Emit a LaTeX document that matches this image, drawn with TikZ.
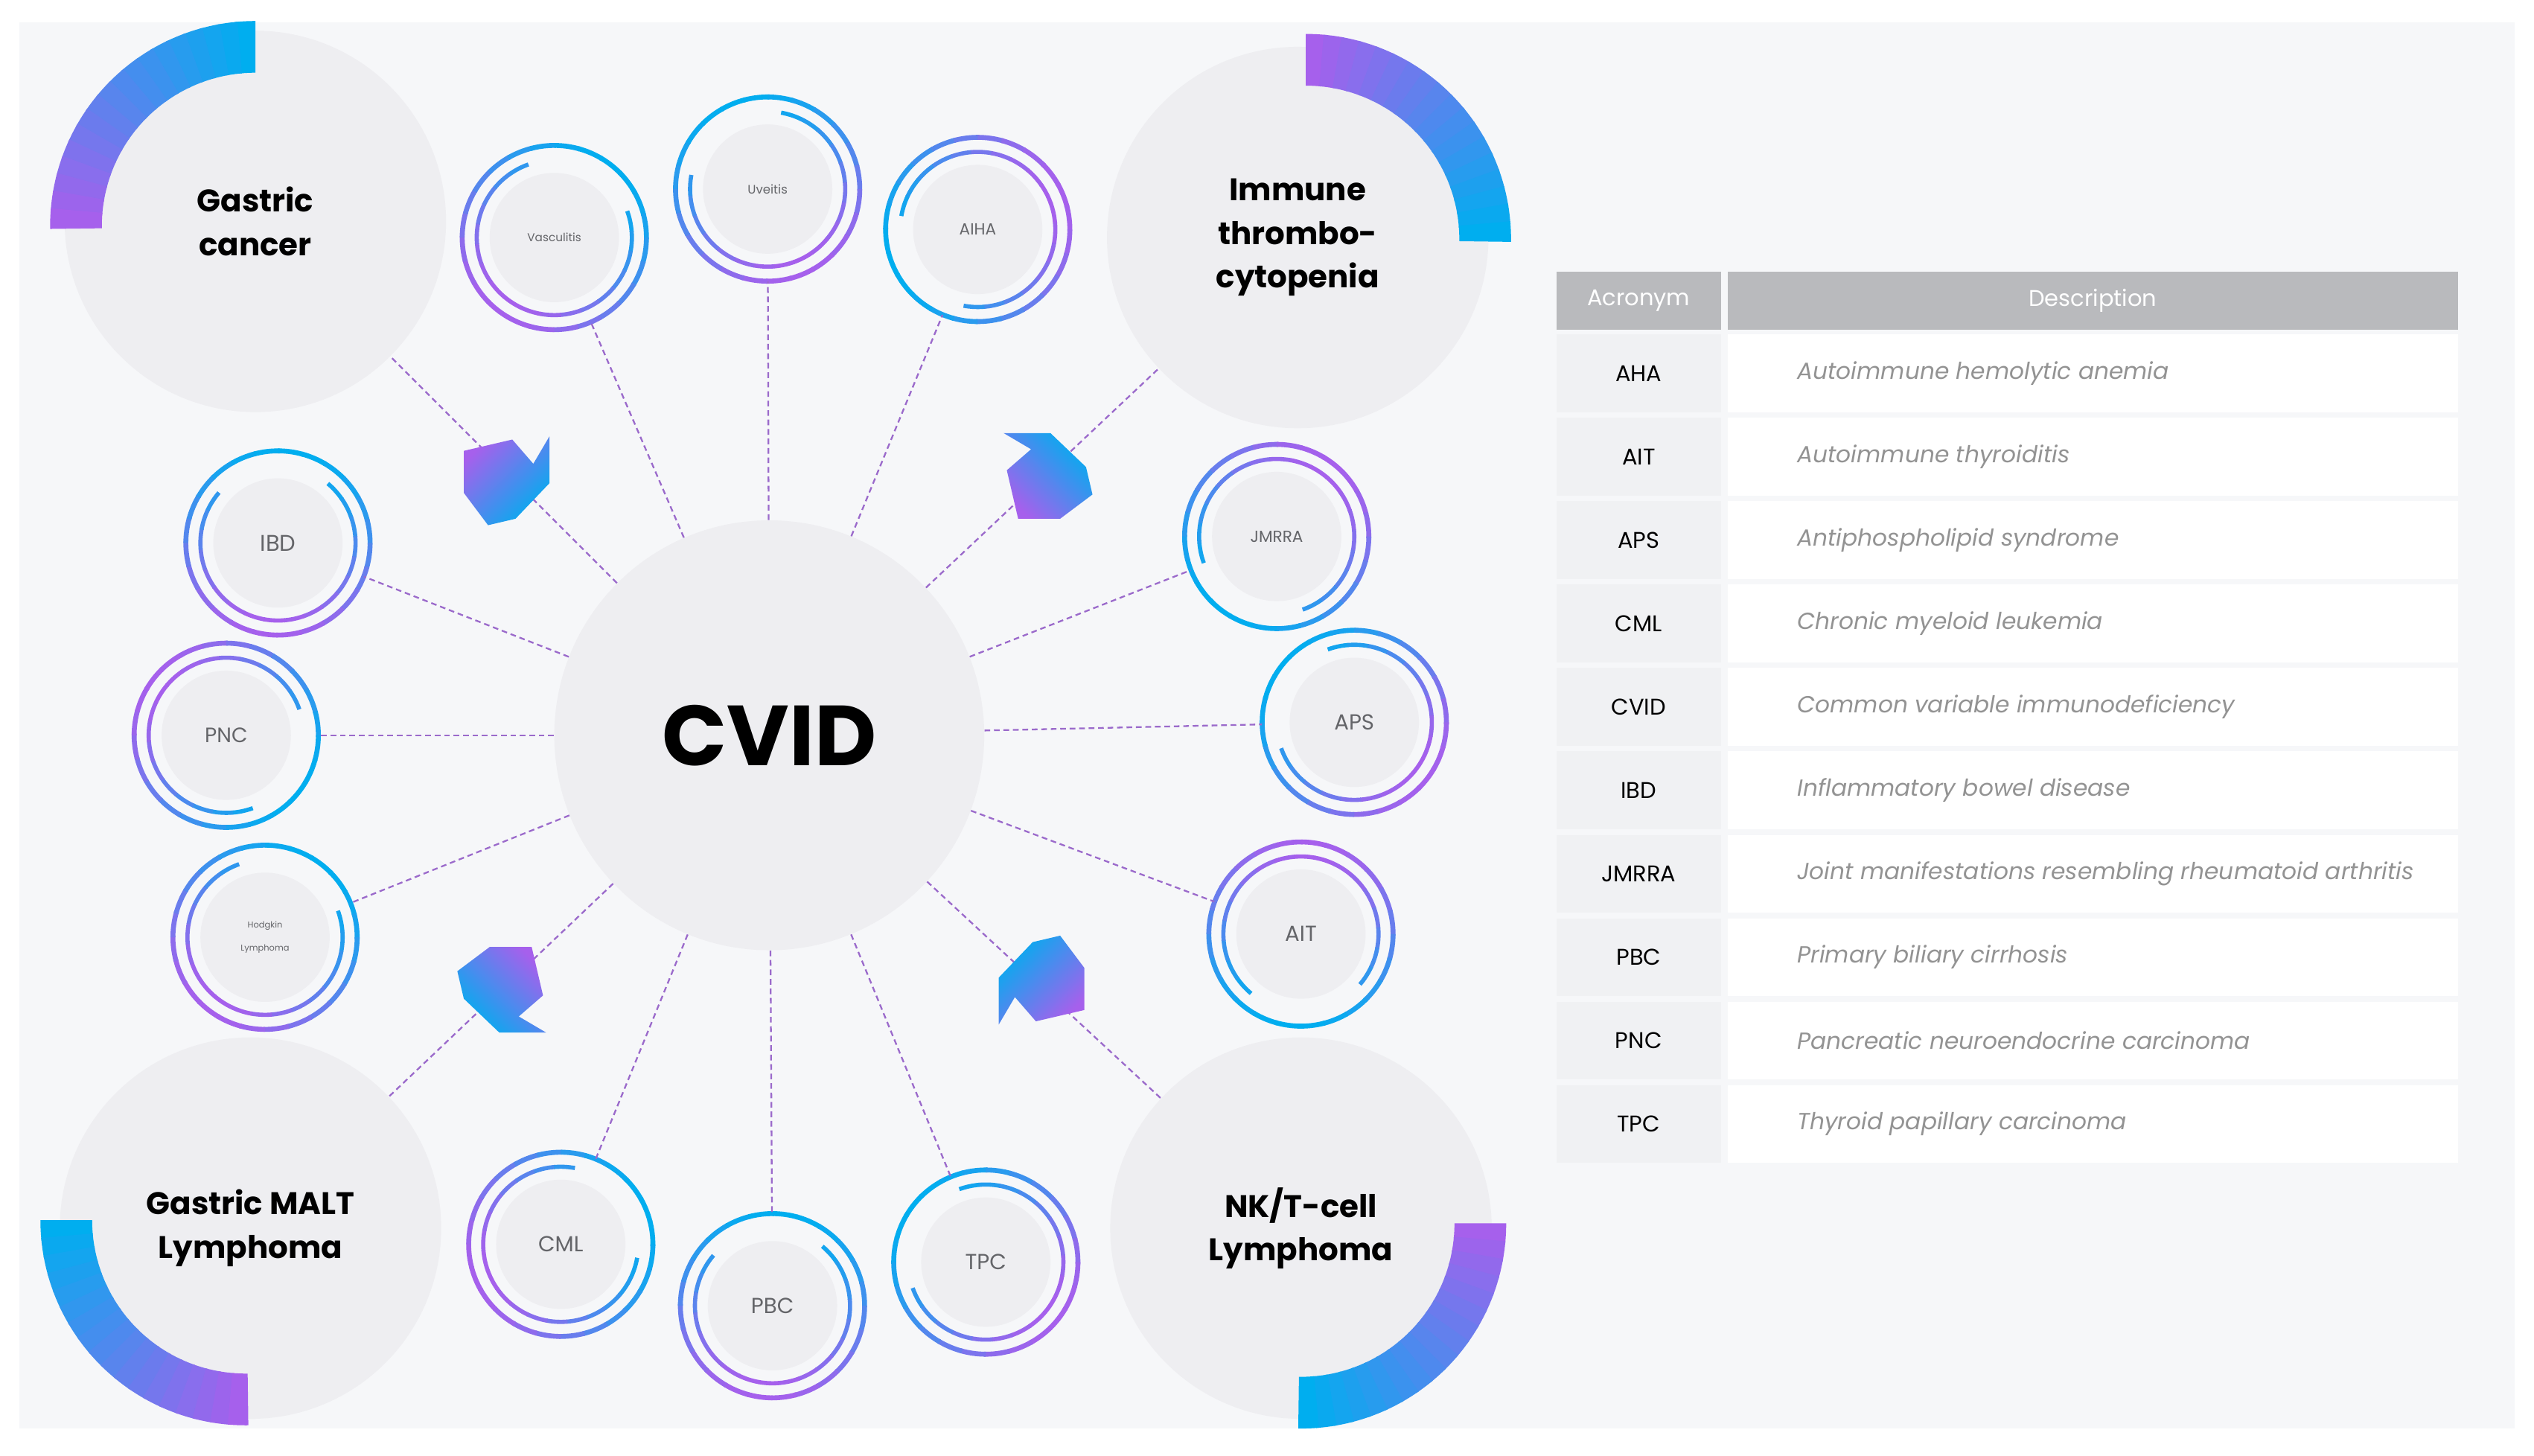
\documentclass[tikz,border=0pt]{standalone}
\usepackage{fontspec}
\setmainfont{Poppins}
\usetikzlibrary{calc, positioning, shapes.geometric}
\definecolor{cyanb}{RGB}{0,174,239}
\definecolor{purpb}{RGB}{166,96,236}
\definecolor{bgpanel}{RGB}{246,247,249}
\definecolor{discgray}{RGB}{238,238,241}
\definecolor{headgray}{RGB}{185,186,189}
\definecolor{cellgray}{RGB}{240,241,243}
\definecolor{labgray}{RGB}{100,101,105}
\tikzset{
	pix/.style={x={(0.03cm,0)},y={(0,-0.03cm)}},
	link/.style={purpb!70!gray, line width=0.9pt, dash pattern=on 3pt off 2pt},
	bigdisc/.style={circle, fill=discgray, minimum size=7.08cm, inner sep=0pt,
		font=\fontsize{16.5}{23}\selectfont\bfseries, align=center, text=black},
	hubdisc/.style={circle, fill=discgray, minimum size=7.98cm, inner sep=0pt,
		font=\fontsize{45}{50}\selectfont\bfseries},
	ringdisc/.style={circle, minimum size=3.42cm, inner sep=0pt, text=labgray, align=center},
	cellhead/.style={headgray},
	acro/.style={font=\fontsize{12}{14}\selectfont, text=black},
	descr/.style={font=\fontsize{12.3}{14}\selectfont\itshape, text=gray!85, anchor=west}
}
% gradient band of a big circle: centre, start, end, colour at start, colour at end
\newcommand\bandarc[5]{
	\foreach \k in {0,...,17}{
		\pgfmathsetmacro\pa{#2+(#3-#2)*\k/18}
		\pgfmathsetmacro\pb{#2+(#3-#2)*(\k+1.15)/18}
		\pgfmathsetmacro\pc{100*\k/17}
		\fill[#5!\pc!#4] ($(#1)+(\pa:127)$) arc[start angle=\pa, end angle=\pb, radius=127]
			-- ($(#1)+(\pb:95)$) arc[start angle=\pb, end angle=\pa, radius=95] -- cycle;
	}
}
% double ring: name, x, y, label, turn
\newcommand\dring[5]{
	\fill[discgray] (#2,#3) circle (40);
	\foreach \k in {0,...,23}{
		\pgfmathsetmacro\pa{#5+15*\k}
		\pgfmathsetmacro\pc{50+50*cos(15*\k)}
		\draw[cyanb!\pc!purpb, line width=2.6pt] ($(#2,#3)+(\pa:57)$) arc[start angle=\pa, end angle=\pa+16, radius=57];
	}
	\foreach \k in {0,...,17}{
		\pgfmathsetmacro\pa{#5+40+15*\k}
		\pgfmathsetmacro\pc{50+50*cos(15*\k+40)}
		\draw[cyanb!\pc!purpb, line width=2.2pt] ($(#2,#3)+(\pa:48)$) arc[start angle=\pa, end angle=\pa+15.5, radius=48];
	}
	\node[ringdisc] (#1) at (#2,#3) {#4};
}
% folded marker on a link
\newcommand\fold[4]{
	\shade[left color=purpb, right color=cyanb, shading angle=#4, shift={(#1,#2)}, rotate=#3]
		(-26,-18) -- (4,-25) -- (17,-10) -- (27,-27) -- (27,2) -- (6,24) -- (-11,28) -- (-26,8) -- cycle;
}

\begin{document}
\begin{tikzpicture}[pix]
	\useasboundingbox (0,0) rectangle (1568,901);
	\fill[white] (0,0) rectangle (1568,901);
	\fill[bgpanel] (12,14) rectangle (1556,884);

	% hub and corner diseases
	\node[hubdisc] (cvid) at (476,455) {CVID};
	\node[bigdisc] (gastric) at (158,137) {Gastric\\cancer};
	\node[bigdisc] (itp) at (803,147) {Immune\\thrombo-\\cytopenia};
	\node[bigdisc] (malt) at (155,760) {Gastric MALT\\Lymphoma};
	\node[bigdisc] (nkt) at (805,760) {NK/T-cell\\Lymphoma};

	\bandarc{158,140}{-90}{-180}{cyanb}{purpb}
	\bandarc{808,148}{-90}{0}{purpb}{cyanb}
	\bandarc{152,755}{180}{90}{cyanb}{purpb}
	\bandarc{805,757}{0}{90}{purpb}{cyanb}

	% links
	\draw[link] (cvid) -- (gastric);
	\draw[link] (cvid) -- (itp);
	\draw[link] (cvid) -- (malt);
	\draw[link] (cvid) -- (nkt);

	\fold{313}{297}{0}{45}
	\fold{648}{295}{90}{135}
	\fold{311}{612}{-90}{-45}
	\fold{645}{607}{180}{225}

	\dring{vasc}{343}{147}{\fontsize{6}{7}\selectfont Vasculitis}{-60}
	\dring{uve}{475}{117}{\fontsize{6.5}{7}\selectfont Uveitis}{-120}
	\dring{aiha}{605}{142}{\fontsize{8.5}{9}\selectfont AIHA}{150}
	\dring{ibd}{172}{336}{\fontsize{12}{13}\selectfont IBD}{-90}
	\dring{jmrra}{790}{332}{\fontsize{8.5}{9}\selectfont JMRRA}{120}
	\dring{pnc}{140}{455}{\fontsize{11}{12}\selectfont PNC}{30}
	\dring{aps}{838}{447}{\fontsize{11.5}{12}\selectfont APS}{-150}
	\dring{hodg}{164}{580}{\fontsize{4.5}{5}\selectfont Hodgkin\\\fontsize{4.5}{5}\selectfont Lymphoma}{-60}
	\dring{ait}{805}{578}{\fontsize{11.5}{12}\selectfont AIT}{90}
	\dring{cml}{347}{770}{\fontsize{11.5}{12}\selectfont CML}{-30}
	\dring{pbc}{478}{808}{\fontsize{11.5}{12}\selectfont PBC}{-90}
	\dring{tpc}{610}{781}{\fontsize{11.5}{12}\selectfont TPC}{-150}

	\foreach \n in {vasc,uve,aiha,ibd,jmrra,pnc,aps,hodg,ait,cml,pbc,tpc}
		\draw[link] (cvid) -- (\n);

	% acronym table
	\fill[cellhead] (963,168) rectangle (1065,204);
	\fill[cellhead] (1069,168) rectangle (1521,204);
	\node[acro, text=white] (hacro) at (1014,186) {Acronym};
	\node[acro, text=white] (hdesc) at (1295,186) {Description};
	\foreach \ac/\de [count=\i] in {AHA/Autoimmune hemolytic anemia,
		AIT/Autoimmune thyroiditis, APS/Antiphospholipid syndrome,
		CML/Chronic myeloid leukemia, CVID/Common variable immunodeficiency,
		IBD/Inflammatory bowel disease,
		JMRRA/Joint manifestations resembling rheumatoid arthritis,
		PBC/Primary biliary cirrhosis, PNC/Pancreatic neuroendocrine carcinoma,
		TPC/Thyroid papillary carcinoma}
	{
		\pgfmathsetmacro\yc{179.4+51.6*\i}
		\fill[cellgray] (963,\yc-24) rectangle (1065,\yc+24);
		\fill[white] (1069,\yc-24) rectangle (1521,\yc+24);
		\node[acro] (a\i) at (1014,\yc) {\ac};
		\node[descr] (d\i) at (1108,\yc) {\de};
	}
\end{tikzpicture}
\end{document}
